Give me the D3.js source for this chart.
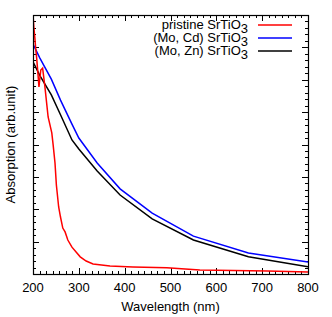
<!DOCTYPE html>
<html>
<head>
<meta charset="utf-8">
<script src="https://cdn.jsdelivr.net/npm/d3@7"></script>
<style>
  body { margin: 0; background: #fff; }
  text { font-family: "Liberation Sans", Arial, sans-serif; }
</style>
</head>
<body>
<script>
// Wavelengths (nm) and absorption (arb.)
const wlPristine = [200, 202, 204, 206, 208, 211, 213, 217, 221, 226, 233, 241, 244, 248, 251, 256, 260, 265, 270, 276, 285, 294, 303, 316, 331, 368, 418, 492, 564, 711, 800];
const pristine = [8.0, 7.6, 7.3, 6.95, 6.67, 6.15, 5.78, 6.3, 6.36, 5.78, 4.85, 4.36, 3.98, 3.43, 2.75, 2.07, 1.76, 1.42, 1.3, 1.05, 0.83, 0.68, 0.53, 0.4, 0.31, 0.25, 0.22, 0.19, 0.12, 0.09, 0.06];

const wlDoped = [200, 215, 240, 260, 285, 300, 340, 390, 460, 550, 670, 800];
const moCd = [7.1, 6.67, 6.02, 5.37, 4.63, 4.2, 3.43, 2.63, 1.88, 1.17, 0.65, 0.37];
const moZn = [6.55, 6.13, 5.53, 4.92, 4.14, 3.86, 3.18, 2.44, 1.7, 1.05, 0.53, 0.22];

const xTicks = [200, 300, 400, 500, 600, 700, 800];

const series = [
  { name: 'pristine SrTiO', x: wlPristine, y: pristine, color: '#ff0000' },
  { name: '(Mo, Cd) SrTiO', x: wlDoped, y: moCd, color: '#0000ff' },
  { name: '(Mo, Zn) SrTiO', x: wlDoped, y: moZn, color: '#000000' }
];

const width = 332, height = 317;
const mLeft = 33, mRight = 308, mTop = 15, mBottom = 274;

const x = d3.scaleLinear().domain([200, 800]).range([mLeft, mRight]);
const y = d3.scaleLinear().domain([0, 8]).range([mBottom, mTop]);

const svg = d3.select('body').append('svg')
  .attr('width', width)
  .attr('height', height);

svg.append('clipPath').attr('id', 'clip')
  .append('rect')
  .attr('x', mLeft).attr('y', mTop)
  .attr('width', mRight - mLeft).attr('height', mBottom - mTop);

// ticks (inward, mirrored on all sides)
const tickG = svg.append('g').attr('stroke', '#000').attr('stroke-width', 1);
const xMinor = d3.range(200, 800.01, 100 / 7);
const yMinor = d3.range(0, 8.01, 0.2);
xMinor.forEach(v => {
  const major = xTicks.some(t => Math.abs(t - v) < 1e-6);
  const len = major ? 6 : 3;
  const px = Math.round(x(v)) + 0.5;
  tickG.append('line').attr('x1', px).attr('x2', px).attr('y1', mBottom).attr('y2', mBottom - len);
  tickG.append('line').attr('x1', px).attr('x2', px).attr('y1', mTop).attr('y2', mTop + len);
});
yMinor.forEach((v, i) => {
  const major = i % 5 === 0;
  const len = major ? 6 : 3;
  const py = Math.round(y(v)) + 0.5;
  tickG.append('line').attr('x1', mLeft).attr('x2', mLeft + len).attr('y1', py).attr('y2', py);
  tickG.append('line').attr('x1', mRight).attr('x2', mRight - len).attr('y1', py).attr('y2', py);
});

// x tick labels
svg.append('g').selectAll('text')
  .data(xTicks)
  .enter()
  .append('text')
  .attr('x', d => x(d))
  .attr('y', 292)
  .attr('text-anchor', 'middle')
  .style('font-size', '13px')
  .text(d => d);

// curves
const line = d3.line()
  .x(d => x(d[0]))
  .y(d => y(d[1]));

svg.append('g').attr('clip-path', 'url(#clip)')
  .selectAll('path')
  .data(series.slice().reverse())
  .enter()
  .append('path')
  .attr('d', d => line(d.x.map((v, i) => [v, d.y[i]])))
  .attr('fill', 'none')
  .attr('stroke', d => d.color)
  .attr('stroke-width', 1.5);

// frame
svg.append('rect')
  .attr('x', mLeft + 0.5).attr('y', mTop + 0.5)
  .attr('width', mRight - mLeft).attr('height', mBottom - mTop)
  .attr('fill', 'none')
  .attr('stroke', '#000')
  .attr('stroke-width', 1.2);

// legend
const legend = svg.append('g').selectAll('g')
  .data(series)
  .enter()
  .append('g')
  .attr('transform', (d, i) => `translate(0,${25 + i * 13})`);

const lt = legend.append('text')
  .attr('x', 248)
  .attr('y', 4)
  .attr('text-anchor', 'end')
  .style('font-size', '13px');
lt.append('tspan').text(d => d.name);
lt.append('tspan').attr('dy', 4).style('font-size', '13px').text('3');

legend.append('line')
  .attr('x1', 258).attr('x2', 292)
  .attr('y1', 0).attr('y2', 0)
  .attr('stroke', d => d.color)
  .attr('stroke-width', 1.5);

// axis labels
svg.append('text')
  .attr('x', (mLeft + mRight) / 2)
  .attr('y', 311)
  .attr('text-anchor', 'middle')
  .style('font-size', '13px')
  .text('Wavelength (nm)');

svg.append('text')
  .attr('transform', `translate(15,${(mTop + mBottom) / 2}) rotate(-90)`)
  .attr('text-anchor', 'middle')
  .style('font-size', '13px')
  .text('Absorption (arb.unit)');
</script>
</body>
</html>
